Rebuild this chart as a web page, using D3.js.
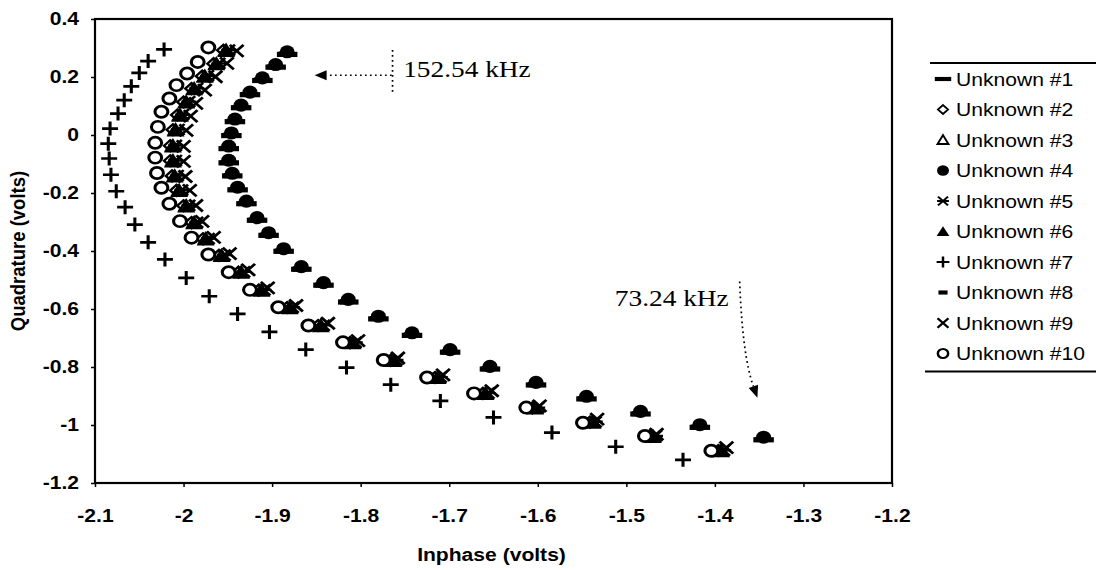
<!DOCTYPE html>
<html>
<head>
<meta charset="utf-8">
<script src="https://cdn.jsdelivr.net/npm/d3@7"></script>
<style>
  body { margin: 0; background: #fff; }
  svg { display: block; }
  text { font-family: "Liberation Sans", Arial, sans-serif; fill: #000; }
</style>
</head>
<body>
<div id="chart"></div>
<script>
const seriesNames = ["Unknown #1", "Unknown #2", "Unknown #3", "Unknown #4", "Unknown #5",
  "Unknown #6", "Unknown #7", "Unknown #8", "Unknown #9", "Unknown #10"];
const xTicks = [-2.1, -2, -1.9, -1.8, -1.7, -1.6, -1.5, -1.4, -1.3, -1.2];
const yTicks = [-1.2, -1, -0.8, -0.6, -0.4, -0.2, 0, 0.2, 0.4];

// inphase (x) / quadrature (y) readings, 152.54 kHz at the top down to 73.24 kHz
const u1x = [-1.883,-1.896,-1.911,-1.925,-1.935,-1.942,-1.946,-1.949,-1.949,-1.945,-1.939,-1.929,-1.917,-1.904,-1.887,-1.867,-1.842,-1.814,-1.780,-1.742,-1.699,-1.654,-1.602,-1.545,-1.484,-1.417,-1.345];
const u1y = [0.278,0.234,0.188,0.139,0.094,0.046,-0.002,-0.047,-0.096,-0.141,-0.189,-0.237,-0.294,-0.346,-0.401,-0.463,-0.518,-0.576,-0.634,-0.691,-0.749,-0.807,-0.862,-0.910,-0.962,-1.008,-1.051];

const u2x = [-1.955,-1.966,-1.979,-1.991,-2.000,-2.007,-2.012,-2.015,-2.015,-2.013,-2.008,-2.000,-1.991,-1.978,-1.960,-1.938,-1.915,-1.883,-1.848,-1.812,-1.766,-1.716,-1.662,-1.606,-1.541,-1.473,-1.396];
const u2y = [0.292,0.246,0.203,0.160,0.114,0.069,0.018,-0.037,-0.089,-0.141,-0.191,-0.244,-0.302,-0.358,-0.415,-0.473,-0.535,-0.595,-0.657,-0.716,-0.777,-0.836,-0.891,-0.941,-0.990,-1.039,-1.088];

const u3x = [-1.952,-1.963,-1.976,-1.988,-1.997,-2.004,-2.009,-2.012,-2.012,-2.010,-2.005,-1.997,-1.988,-1.975,-1.957,-1.935,-1.912,-1.880,-1.845,-1.809,-1.763,-1.713,-1.659,-1.603,-1.538,-1.470,-1.393];
const u3y = [0.290,0.244,0.201,0.158,0.112,0.067,0.016,-0.039,-0.091,-0.143,-0.193,-0.246,-0.304,-0.360,-0.417,-0.475,-0.537,-0.597,-0.659,-0.718,-0.779,-0.838,-0.893,-0.943,-0.992,-1.041,-1.090];

const u4x = [-1.883,-1.896,-1.911,-1.925,-1.935,-1.942,-1.946,-1.949,-1.949,-1.945,-1.939,-1.929,-1.917,-1.904,-1.887,-1.867,-1.842,-1.814,-1.780,-1.742,-1.699,-1.654,-1.602,-1.545,-1.484,-1.417,-1.345];
const u4y = [0.287,0.243,0.197,0.148,0.103,0.055,0.007,-0.038,-0.087,-0.132,-0.180,-0.228,-0.285,-0.337,-0.392,-0.454,-0.509,-0.567,-0.625,-0.682,-0.740,-0.798,-0.853,-0.901,-0.953,-0.999,-1.042];

const u5x = [-1.949,-1.960,-1.973,-1.985,-1.994,-2.001,-2.006,-2.009,-2.009,-2.007,-2.002,-1.994,-1.985,-1.972,-1.954,-1.932,-1.909,-1.877,-1.842,-1.806,-1.760,-1.710,-1.656,-1.600,-1.535,-1.467,-1.390];
const u5y = [0.293,0.247,0.204,0.161,0.115,0.070,0.019,-0.036,-0.088,-0.140,-0.190,-0.243,-0.301,-0.357,-0.414,-0.472,-0.534,-0.594,-0.656,-0.715,-0.776,-0.835,-0.890,-0.940,-0.989,-1.038,-1.087];

const u6x = [-1.953,-1.964,-1.977,-1.989,-1.998,-2.005,-2.010,-2.013,-2.013,-2.011,-2.006,-1.998,-1.989,-1.976,-1.958,-1.936,-1.913,-1.881,-1.846,-1.810,-1.764,-1.714,-1.660,-1.604,-1.539,-1.471,-1.394];
const u6y = [0.291,0.245,0.202,0.159,0.113,0.068,0.017,-0.038,-0.090,-0.142,-0.192,-0.245,-0.303,-0.359,-0.416,-0.474,-0.536,-0.596,-0.658,-0.717,-0.778,-0.837,-0.892,-0.942,-0.991,-1.040,-1.089];

const u7x = [-2.022,-2.040,-2.050,-2.059,-2.067,-2.074,-2.083,-2.085,-2.084,-2.082,-2.076,-2.066,-2.055,-2.040,-2.021,-1.997,-1.971,-1.939,-1.903,-1.862,-1.816,-1.766,-1.710,-1.650,-1.584,-1.512,-1.436];
const u7y = [0.295,0.255,0.214,0.168,0.120,0.074,0.022,-0.030,-0.081,-0.137,-0.194,-0.249,-0.309,-0.370,-0.429,-0.493,-0.556,-0.617,-0.679,-0.740,-0.802,-0.861,-0.917,-0.974,-1.026,-1.075,-1.120];

const u8x = [-1.886,-1.899,-1.914,-1.928,-1.938,-1.945,-1.949,-1.952,-1.952,-1.948,-1.942,-1.932,-1.920,-1.907,-1.890,-1.870,-1.845,-1.817,-1.783,-1.745,-1.702,-1.657,-1.605,-1.548,-1.487,-1.420,-1.348];
const u8y = [0.279,0.235,0.189,0.140,0.095,0.047,-0.001,-0.046,-0.095,-0.140,-0.188,-0.236,-0.293,-0.345,-0.400,-0.462,-0.517,-0.575,-0.633,-0.690,-0.748,-0.806,-0.861,-0.909,-0.961,-1.007,-1.050];

const u9x = [-1.940,-1.951,-1.964,-1.976,-1.986,-1.992,-1.997,-2.000,-2.000,-1.998,-1.993,-1.986,-1.979,-1.966,-1.948,-1.927,-1.905,-1.873,-1.837,-1.803,-1.758,-1.707,-1.652,-1.598,-1.533,-1.466,-1.387];
const u9y = [0.290,0.247,0.201,0.155,0.109,0.065,0.016,-0.039,-0.091,-0.143,-0.191,-0.243,-0.298,-0.353,-0.409,-0.465,-0.527,-0.588,-0.649,-0.709,-0.769,-0.827,-0.882,-0.934,-0.980,-1.032,-1.078];

const u10x = [-1.972,-1.984,-1.996,-2.008,-2.016,-2.025,-2.029,-2.032,-2.032,-2.030,-2.025,-2.016,-2.004,-1.991,-1.972,-1.949,-1.925,-1.893,-1.859,-1.820,-1.774,-1.725,-1.672,-1.613,-1.549,-1.479,-1.404];
const u10y = [0.302,0.252,0.212,0.172,0.126,0.080,0.028,-0.027,-0.078,-0.131,-0.182,-0.237,-0.297,-0.354,-0.412,-0.473,-0.534,-0.594,-0.657,-0.715,-0.776,-0.836,-0.891,-0.940,-0.992,-1.038,-1.089];

const series = [
  { name: seriesNames[0], xs: u1x, ys: u1y, shape: 'dash' },
  { name: seriesNames[1], xs: u2x, ys: u2y, shape: 'diamond' },
  { name: seriesNames[2], xs: u3x, ys: u3y, shape: 'triangle' },
  { name: seriesNames[3], xs: u4x, ys: u4y, shape: 'dot' },
  { name: seriesNames[4], xs: u5x, ys: u5y, shape: 'star' },
  { name: seriesNames[5], xs: u6x, ys: u6y, shape: 'triangleFill' },
  { name: seriesNames[6], xs: u7x, ys: u7y, shape: 'plus' },
  { name: seriesNames[7], xs: u8x, ys: u8y, shape: 'smallDash' },
  { name: seriesNames[8], xs: u9x, ys: u9y, shape: 'cross' },
  { name: seriesNames[9], xs: u10x, ys: u10y, shape: 'ring' }
];

// the scanned original is a little wider than tall, keep that stretch
const SX = 1.14;

const shapes = {
  dash:         { d: 'M-9,-2.6H9V2.6H-9Z', fill: '#000', stroke: 'none', w: 0 },
  smallDash:    { d: 'M-5,-2.6H5V2.6H-5Z', fill: '#000', stroke: 'none', w: 0 },
  diamond:      { d: 'M0,-5.5L5.5,0L0,5.5L-5.5,0Z', fill: '#fff', stroke: '#000', w: 2.2 },
  triangle:     { d: 'M0,-6L6,5L-6,5Z', fill: '#fff', stroke: '#000', w: 2.2 },
  dot:          { d: d3.symbol(d3.symbolCircle, 135)(), fill: '#000', stroke: 'none', w: 0 },
  star:         { d: 'M-5.5,-5.5L5.5,5.5M-5.5,5.5L5.5,-5.5M-6.5,0H6.5', fill: 'none', stroke: '#000', w: 2.4 },
  triangleFill: { d: 'M0,-6.5L7,5.5L-7,5.5Z', fill: '#000', stroke: 'none', w: 0 },
  plus:         { d: 'M-7,0H7M0,-7V7', fill: 'none', stroke: '#000', w: 2.7 },
  cross:        { d: 'M-6,-6L6,6M-6,6L6,-6', fill: 'none', stroke: '#000', w: 2.6 },
  ring:         { d: d3.symbol(d3.symbolCircle, 100)(), fill: '#fff', stroke: '#000', w: 2.7 }
};

function drawShape(g, key) {
  const s = shapes[key];
  g.append('path')
    .attr('d', s.d)
    .attr('fill', s.fill)
    .attr('stroke', s.stroke)
    .attr('stroke-width', s.w);
}

const width = 1098;
const height = 570;
const marginLeft = 95;
const marginRight = 206;
const marginTop = 19;
const marginBottom = 87;

const x = d3.scaleLinear()
  .domain([-2.1, -1.2])
  .range([marginLeft, width - marginRight]);

const y = d3.scaleLinear()
  .domain([-1.2, 0.4])
  .range([height - marginBottom, marginTop]);

const svg = d3.select('#chart').append('svg')
  .attr('width', width)
  .attr('height', height)
  .attr('viewBox', [0, 0, width, height]);

svg.append('rect').attr('width', width).attr('height', height).attr('fill', '#fff');

// axes
const axisX = svg.append('g')
  .attr('transform', `translate(0,${y(-1.2)})`)
  .call(d3.axisBottom(x).tickValues(xTicks).tickSize(4).tickPadding(22).tickFormat((d) => String(d)));
axisX.select('.domain').remove();
axisX.selectAll('line').attr('stroke-width', 1.5);
axisX.selectAll('text')
  .attr('transform', `scale(${SX},1)`)
  .style('font-size', '18.5px')
  .style('font-weight', 'bold')
  .style('font-family', '"Liberation Sans", Arial, sans-serif');

const axisY = svg.append('g')
  .attr('transform', `translate(${x(-2.1)},0)`)
  .call(d3.axisLeft(y).tickValues(yTicks).tickSize(4).tickFormat((d) => String(d)));
axisY.select('.domain').remove();
axisY.selectAll('line').attr('stroke-width', 1.5);
axisY.selectAll('text')
  .attr('x', -16 / SX)
  .attr('transform', `scale(${SX},1)`)
  .style('font-size', '18.5px')
  .style('font-weight', 'bold')
  .style('font-family', '"Liberation Sans", Arial, sans-serif');

// plot frame
svg.append('rect')
  .attr('x', x(-2.1))
  .attr('y', y(0.4))
  .attr('width', x(-1.2) - x(-2.1))
  .attr('height', y(-1.2) - y(0.4))
  .attr('fill', 'none')
  .attr('stroke', '#000')
  .attr('stroke-width', 2.2);

// axis titles
svg.append('text')
  .attr('transform', `translate(${(x(-2.1) + x(-1.2)) / 2 - 2},561) scale(${SX},1)`)
  .attr('text-anchor', 'middle')
  .style('font-size', '18.5px')
  .style('font-weight', 'bold')
  .text('Inphase (volts)');

svg.append('text')
  .attr('transform', `translate(17.5,${(y(0.4) + y(-1.2)) / 2}) scale(${SX},1) rotate(-90)`)
  .attr('text-anchor', 'middle')
  .attr('dy', '0.35em')
  .style('font-size', '18.5px')
  .style('font-weight', 'bold')
  .text('Quadrature (volts)');

// data
const plot = svg.append('g');
series.forEach((s) => {
  plot.append('g').selectAll('g')
    .data(d3.zip(s.xs, s.ys))
    .join('g')
      .attr('transform', (d) => `translate(${x(d[0])},${y(d[1])}) scale(${SX},1)`)
      .each(function () { drawShape(d3.select(this), s.shape); });
});

// frequency annotations
const dotted = { stroke: '#000', width: 1.7, dash: '1.7,3.3' };

function arrowHead(tip, from, len, half) {
  const ang = Math.atan2(tip[1] - from[1], tip[0] - from[0]);
  const bx = tip[0] - len * Math.cos(ang);
  const by = tip[1] - len * Math.sin(ang);
  const px = -Math.sin(ang) * half;
  const py = Math.cos(ang) * half;
  svg.append('path')
    .attr('d', `M${tip[0]},${tip[1]}L${bx + px},${by + py}L${bx - px},${by - py}Z`)
    .attr('fill', '#000');
  return [bx, by];
}

// 152.54 kHz
svg.append('line')
  .attr('x1', x(-1.764)).attr('x2', x(-1.764))
  .attr('y1', y(0.293)).attr('y2', y(0.144))
  .attr('stroke', dotted.stroke).attr('stroke-width', dotted.width)
  .attr('stroke-dasharray', dotted.dash);
const tipA = [x(-1.852), y(0.206)];
const baseA = arrowHead(tipA, [x(-1.765), y(0.206)], 12, 5);
svg.append('line')
  .attr('x1', x(-1.765)).attr('x2', baseA[0])
  .attr('y1', y(0.206)).attr('y2', y(0.206))
  .attr('stroke', dotted.stroke).attr('stroke-width', dotted.width)
  .attr('stroke-dasharray', dotted.dash);
svg.append('text')
  .attr('transform', `translate(${x(-1.752)},${y(0.2)}) scale(${SX},1)`)
  .style('font-family', '"Liberation Serif", "Times New Roman", serif')
  .style('font-size', '24px')
  .text('152.54 kHz');

// 73.24 kHz
const startB = [x(-1.372), y(-0.505)];
const ctrlB = [x(-1.369), y(-0.760)];
const tipB = [x(-1.352), y(-0.906)];
const baseB = arrowHead(tipB, ctrlB, 12, 5);
svg.append('path')
  .attr('d', `M${startB[0]},${startB[1]}Q${ctrlB[0]},${ctrlB[1]} ${baseB[0]},${baseB[1]}`)
  .attr('fill', 'none')
  .attr('stroke', dotted.stroke).attr('stroke-width', dotted.width)
  .attr('stroke-dasharray', dotted.dash);
svg.append('text')
  .attr('transform', `translate(${x(-1.513)},${y(-0.588)}) scale(${SX},1)`)
  .style('font-family', '"Liberation Serif", "Times New Roman", serif')
  .style('font-size', '24px')
  .text('73.24 kHz');

// legend
const legend = svg.append('g');
const legendTop = 63;
const legendStep = 30.5;
const legendBottom = legendTop + 16 + legendStep * 9 + 18;
legend.append('line')
  .attr('x1', 930).attr('x2', 1096)
  .attr('y1', legendTop).attr('y2', legendTop)
  .attr('stroke', '#000').attr('stroke-width', 1.8);
legend.append('line')
  .attr('x1', 925).attr('x2', 1096)
  .attr('y1', legendBottom).attr('y2', legendBottom)
  .attr('stroke', '#000').attr('stroke-width', 1.8);

const rows = legend.selectAll('g.row')
  .data(series)
  .join('g')
    .attr('class', 'row')
    .attr('transform', (d, i) => `translate(0,${legendTop + 16 + i * legendStep})`);

rows.append('g')
  .attr('transform', `translate(943,0) scale(${SX * 0.8},0.8)`)
  .each(function (d) { drawShape(d3.select(this), d.shape); });

rows.append('text')
  .attr('transform', `translate(956,0) scale(${SX},1)`)
  .attr('dy', '0.36em')
  .style('font-size', '18.5px')
  .text((d) => d.name);
</script>
</body>
</html>
